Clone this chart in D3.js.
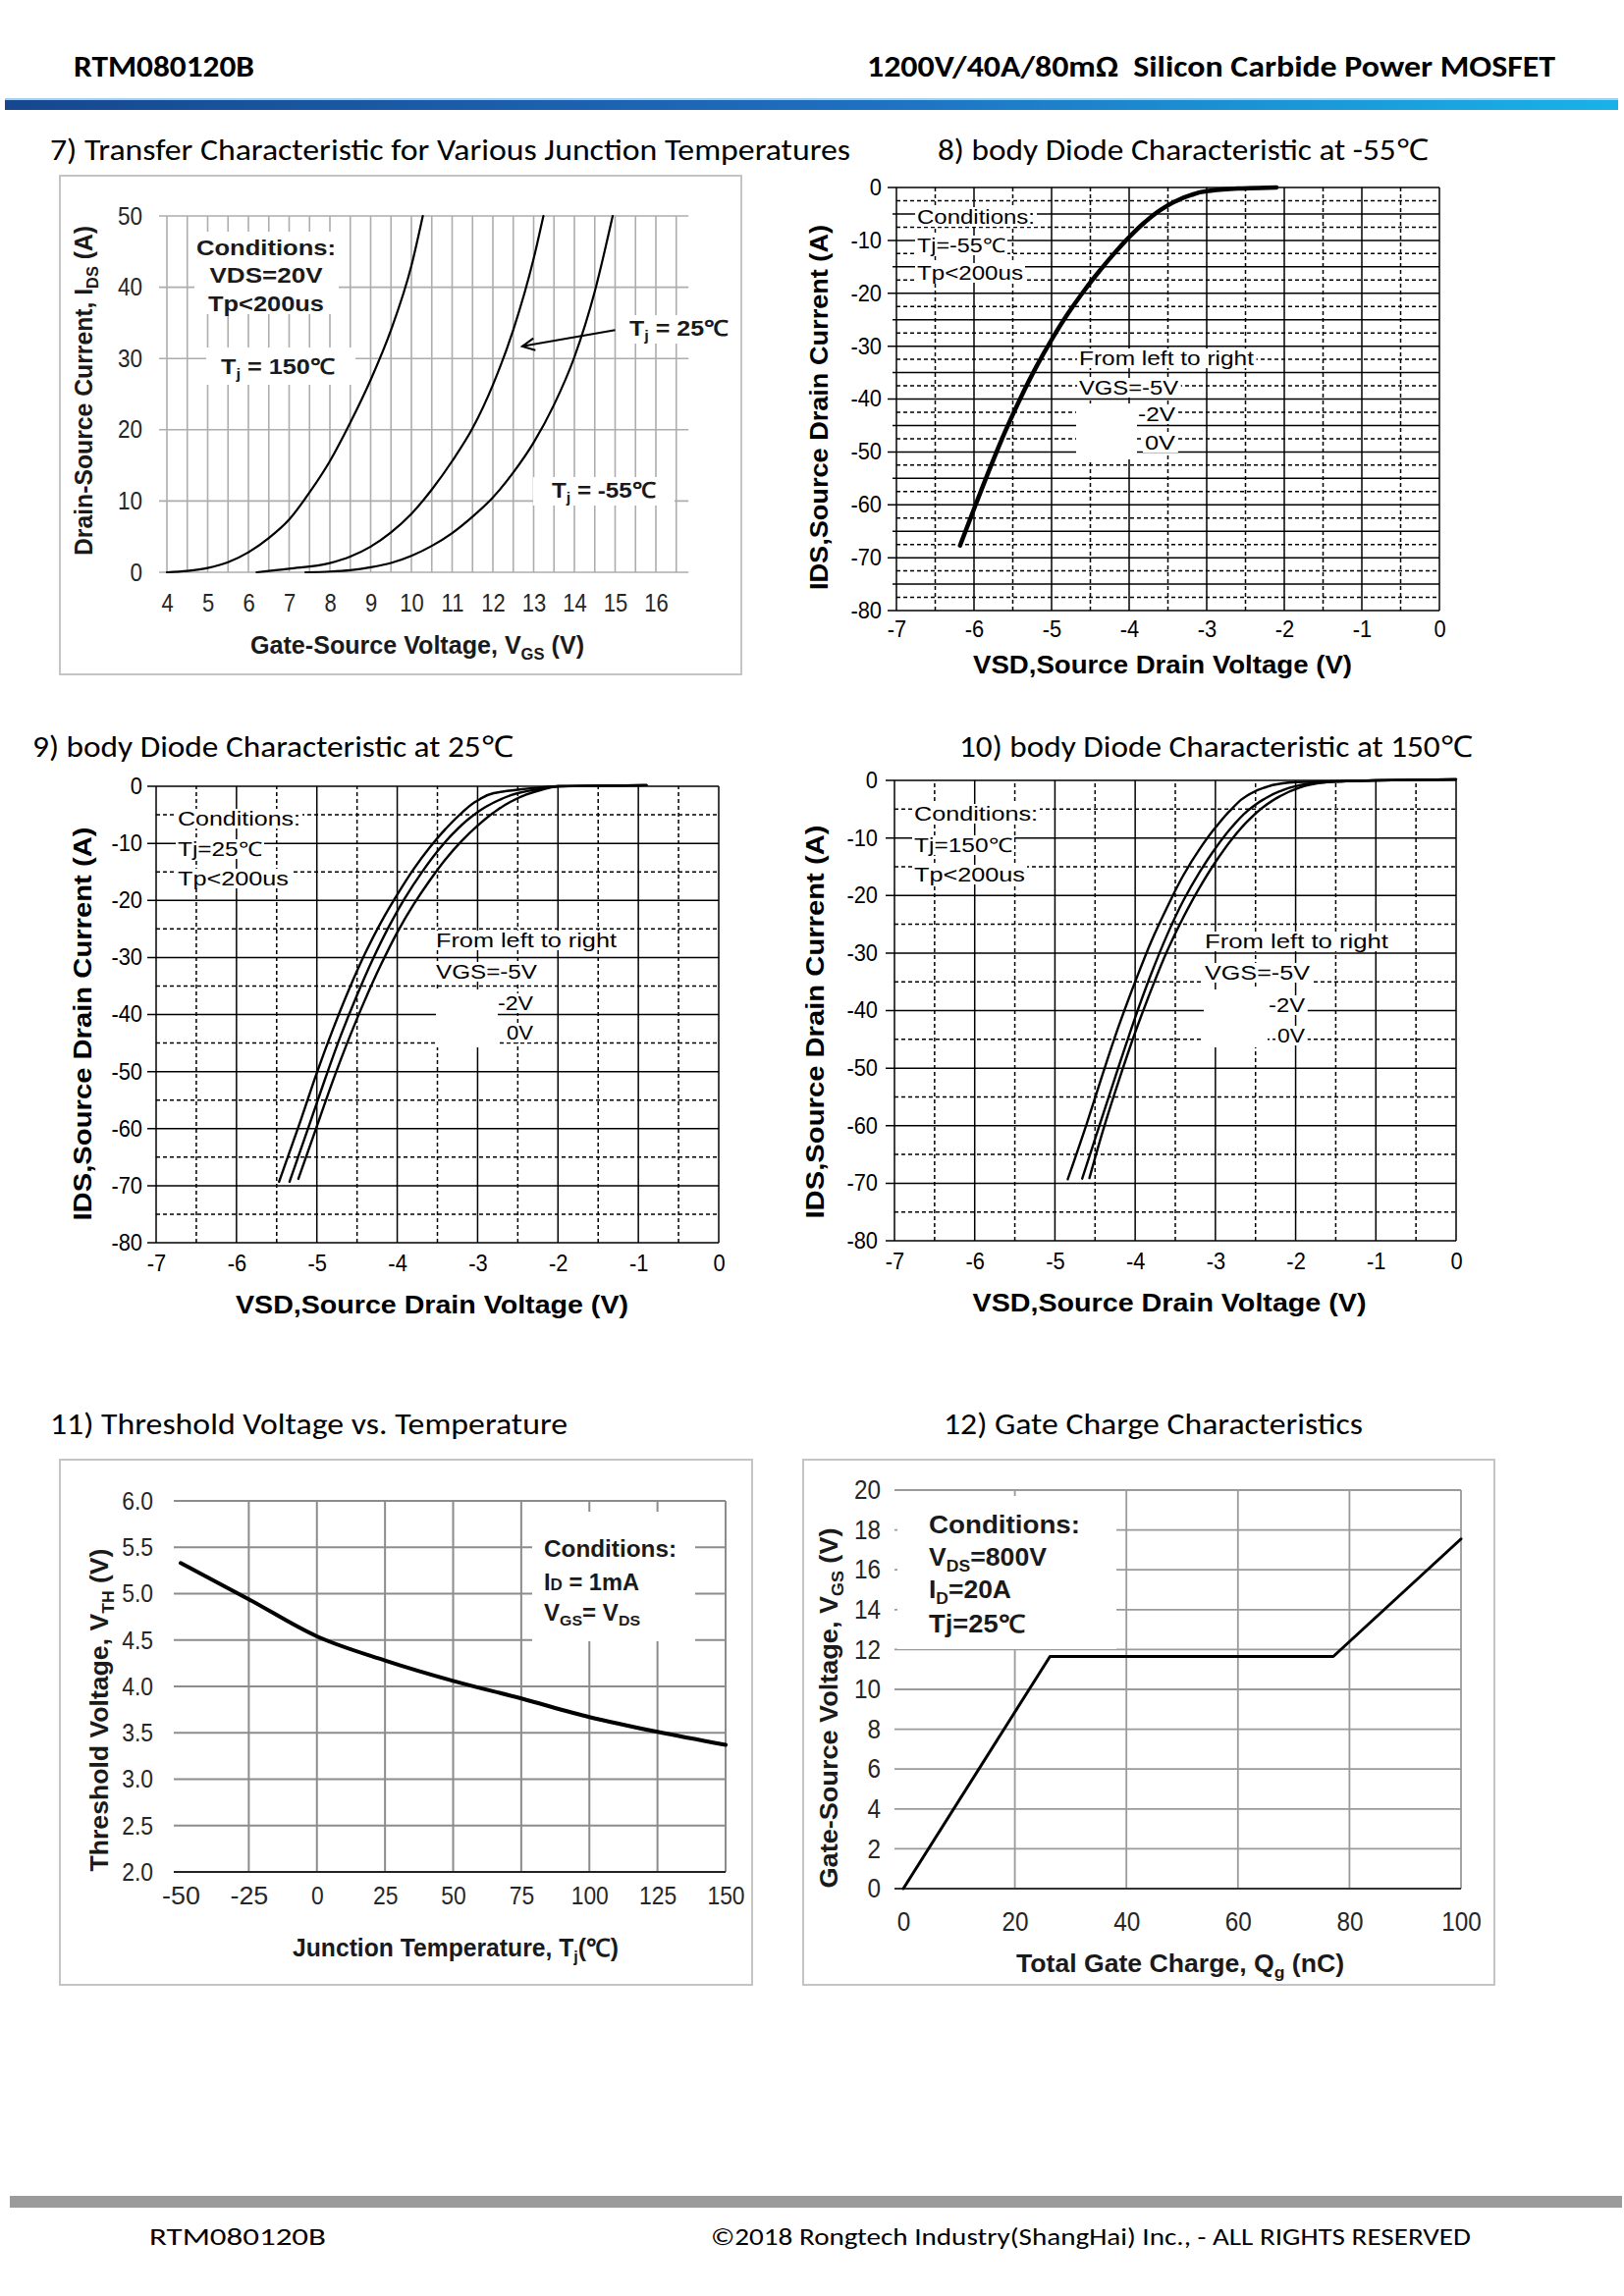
<!DOCTYPE html>
<html>
<head>
<meta charset="utf-8">
<script src="https://cdn.jsdelivr.net/npm/d3@7"></script>
<style>
  body { margin: 0; background: #fff; }
  svg { display: block; }
  text { white-space: pre; }
</style>
</head>
<body>
<svg id="page" width="1654" height="2339"></svg>
<script>
// ---- data ----

// 7) transfer characteristic, VGS (V) vs IDS (A)
var tfVgs150 = [4, 4.5, 5, 5.5, 6, 6.5, 7, 7.5, 8, 8.5, 9, 9.5, 10, 10.28];
var tfIds150 = [0, 0.2, 0.6, 1.4, 2.8, 4.8, 7.4, 11.2, 15.6, 21.0, 27.0, 34.0, 43.0, 50];
var tfVgs25 = [6.2, 7, 8, 8.5, 9, 9.5, 10, 10.5, 11, 11.5, 12, 12.5, 13, 13.24];
var tfIds25 = [0, 0.5, 1.3, 2.2, 3.6, 5.6, 8.2, 11.6, 15.6, 20.2, 26.3, 34, 44, 50];
var tfVgsM55 = [7.4, 8, 8.5, 9, 9.5, 10, 10.5, 11, 11.5, 12, 12.5, 13, 13.5, 14, 14.5, 14.94];
var tfIdsM55 = [0, 0.1, 0.3, 0.7, 1.3, 2.3, 3.7, 5.5, 7.8, 10.5, 14, 18.2, 23.5, 30.2, 39.4, 50];
var tfTicksX = [4, 5, 6, 7, 8, 9, 10, 11, 12, 13, 14, 15, 16];
var tfTicksY = [0, 10, 20, 30, 40, 50];

// 8) body diode at -55C (the three VGS curves lie on top of each other)
var bdVsdM55 = [-6.18, -6.0, -5.8, -5.6, -5.4, -5.2, -5.0, -4.8, -4.6, -4.4, -4.2, -4.0, -3.8, -3.6, -3.4, -3.2, -3.0, -2.6, -2.1];
var bdIdsM55 = [-67.7, -60.8, -53.3, -46.2, -39.8, -34.0, -28.8, -24.1, -19.9, -16.1, -12.6, -9.4, -6.6, -4.3, -2.6, -1.4, -0.7, -0.2, 0];

// 9) body diode at 25C
var bdVsd25n5 = [-5.47, -5.2, -5.0, -4.8, -4.6, -4.4, -4.2, -4.0, -3.8, -3.6, -3.4, -3.2, -3.0, -2.8, -2.5, -2.2, -2.0, -0.9];
var bdIds25n5 = [-69.3, -58.5, -50.2, -42.6, -35.6, -29.3, -23.8, -19.0, -14.6, -10.8, -7.5, -4.7, -2.5, -1.2, -0.6, -0.2, 0, 0.2];
var bdVsd25n2 = [-5.34, -5.1, -4.9, -4.7, -4.5, -4.3, -4.1, -3.9, -3.7, -3.5, -3.3, -3.1, -2.9, -2.7, -2.5, -2.2, -2.0, -0.9];
var bdIds25n2 = [-69.3, -59.6, -51.4, -43.6, -36.6, -30.2, -24.5, -19.5, -15.2, -11.4, -8.2, -5.6, -3.6, -2.2, -1.2, -0.4, 0, 0.2];
var bdVsd25z = [-5.23, -5.0, -4.8, -4.6, -4.4, -4.2, -4.0, -3.8, -3.6, -3.4, -3.2, -3.0, -2.8, -2.6, -2.4, -2.2, -2.0, -0.9];
var bdIds25z = [-68.8, -59.6, -51.6, -44.2, -37.4, -31.2, -25.6, -20.8, -16.6, -12.8, -9.6, -6.9, -4.6, -2.8, -1.5, -0.6, 0, 0.2];

// 10) body diode at 150C
var bdVsd150n5 = [-4.84, -4.6, -4.4, -4.2, -4.0, -3.8, -3.6, -3.4, -3.2, -3.0, -2.8, -2.6, -2.4, -2.2, -2.0, -1.7, -1.0, 0];
var bdIds150n5 = [-69.3, -59.5, -50.8, -42.5, -35, -28, -22, -16.5, -12, -8.2, -5.0, -2.6, -1.3, -0.6, -0.3, -0.2, 0, 0.2];
var bdVsd150n2 = [-4.66, -4.4, -4.2, -4.0, -3.8, -3.6, -3.4, -3.2, -3.0, -2.8, -2.6, -2.4, -2.2, -2.0, -1.8, -1.0, 0];
var bdIds150n2 = [-69.2, -58, -49.5, -41.2, -33.6, -26.8, -20.9, -16, -11.8, -8.2, -5.3, -3.3, -1.9, -1.0, -0.5, 0, 0.2];
var bdVsd150z = [-4.57, -4.4, -4.2, -4.0, -3.8, -3.6, -3.4, -3.2, -3.0, -2.8, -2.6, -2.4, -2.2, -2.0, -1.8, -1.5, -1.0, 0];
var bdIds150z = [-69.1, -60.8, -52, -43.8, -36.4, -29.6, -23.8, -18.7, -14.2, -10.3, -7.1, -4.6, -2.8, -1.5, -0.7, -0.2, 0, 0.2];
var bdTicksX = [-7, -6, -5, -4, -3, -2, -1, 0];
var bdTicksY = [-80, -70, -60, -50, -40, -30, -20, -10, 0];

// 11) threshold voltage vs temperature
var vthTemp = [-50, -25, 0, 25, 50, 75, 100, 125, 150];
var vthVolt = [5.33, 4.94, 4.54, 4.28, 4.06, 3.87, 3.67, 3.51, 3.37];
var vthTicksY = [2.0, 2.5, 3.0, 3.5, 4.0, 4.5, 5.0, 5.5, 6.0];

// 12) gate charge
var qgCharge = [0, 26.3, 77.1, 100];
var qgVgs = [0, 11.65, 11.65, 17.55];
var qgTicksX = [0, 20, 40, 60, 80, 100];
var qgTicksY = [0, 2, 4, 6, 8, 10, 12, 14, 16, 18, 20];

var SANS = "'Liberation Sans', Arial, Helvetica, sans-serif";
var CAL = "Carlito, Calibri, Lato, 'Open Sans', sans-serif";

var svg = d3.select('#page');

// text with optional subscripts {sub:'..'} / small letters {sm:'..'}, width fit and white backing
function txt(g, x, y, parts, o) {
  o = o || {};
  var size = o.size || 20;
  var t = g.append('text')
    .attr('x', x).attr('y', y)
    .attr('font-family', o.font || SANS)
    .attr('font-size', size)
    .attr('font-weight', o.bold ? 'bold' : 'normal')
    .attr('text-anchor', o.anchor || 'start')
    .attr('fill', o.fill || '#000');
  if (typeof parts === 'string') parts = [parts];
  var down = false;
  parts.forEach(function(p) {
    var s;
    if (typeof p === 'object' && p.sub !== undefined) {
      s = t.append('tspan').text(p.sub).attr('font-size', size * 0.66);
      if (!down) { s.attr('dy', size * 0.22); down = true; }
    } else if (typeof p === 'object') {
      s = t.append('tspan').text(p.sm).attr('font-size', size * 0.72);
      if (down) { s.attr('dy', -size * 0.22); down = false; }
    } else {
      s = t.append('tspan').text(p);
      if (down) { s.attr('dy', -size * 0.22); down = false; }
    }
  });
  if (o.w) t.attr('textLength', o.w).attr('lengthAdjust', 'spacingAndGlyphs');
  if (o.bg) {
    var b = t.node().getBBox();
    g.insert('rect', function() { return t.node(); })
      .attr('x', b.x - 2).attr('y', b.y + 1).attr('width', b.width + 4).attr('height', b.height - 2)
      .attr('fill', '#fff');
  }
  return t;
}

function rotTxt(g, bx, cy, parts, o) {
  var r = g.append('g').attr('transform', 'translate(' + bx + ',' + cy + ') rotate(-90)');
  o.anchor = 'middle';
  return txt(r, 0, 0, parts, o);
}

function hline(g, x1, x2, y, stroke, w, dash) {
  g.append('line').attr('x1', x1).attr('x2', x2).attr('y1', y).attr('y2', y)
    .attr('stroke', stroke).attr('stroke-width', w).attr('stroke-dasharray', dash || null);
}
function vline(g, x, y1, y2, stroke, w, dash) {
  g.append('line').attr('x1', x).attr('x2', x).attr('y1', y1).attr('y2', y2)
    .attr('stroke', stroke).attr('stroke-width', w).attr('stroke-dasharray', dash || null);
}

// tick label styling; k < 1 squeezes the glyphs like a narrow font
function styleTicks(sel, size, fill, k) {
  sel.select('.domain').remove();
  sel.selectAll('text').attr('font-family', SANS).attr('font-size', size).attr('fill', fill)
    .each(function() {
      if (k && k !== 1) {
        var L = this.getComputedTextLength();
        d3.select(this).attr('textLength', L * k).attr('lengthAdjust', 'spacingAndGlyphs');
      }
    });
}

function curve(g, x, y, xs, ys, w, kind) {
  var pts = xs.map(function(v, i) { return [v, ys[i]]; });
  g.append('path').datum(pts)
    .attr('fill', 'none').attr('stroke', '#000').attr('stroke-width', w)
    .attr('stroke-linejoin', 'round').attr('stroke-linecap', 'round')
    .attr('d', d3.line().x(function(d) { return x(d[0]); }).y(function(d) { return y(d[1]); })
      .curve(kind || d3.curveMonotoneX));
}

// ---- page header / footer ----
var defs = svg.append('defs');
var grad = defs.append('linearGradient').attr('id', 'bar');
grad.append('stop').attr('offset', '0').attr('stop-color', '#16478f');
grad.append('stop').attr('offset', '0.5').attr('stop-color', '#1f6cbd');
grad.append('stop').attr('offset', '1').attr('stop-color', '#19b2e8');

txt(svg, 75, 78, 'RTM080120B', { font: CAL, size: 31, bold: true, w: 184 });
txt(svg, 883, 78, '1200V/40A/80m\u2126  Silicon Carbide Power MOSFET', { font: CAL, size: 31, bold: true, w: 701 });
svg.append('rect').attr('x', 5).attr('y', 100).attr('width', 1643).attr('height', 2).attr('fill', '#9fd0f0');
svg.append('rect').attr('x', 5).attr('y', 102).attr('width', 1643).attr('height', 10).attr('fill', 'url(#bar)');

svg.append('rect').attr('x', 10).attr('y', 2237).attr('width', 1642).attr('height', 12).attr('fill', '#9b9b9b');
txt(svg, 152, 2287, 'RTM080120B', { font: CAL, size: 25, w: 180 });
txt(svg, 724, 2287, '\u00a92018 Rongtech Industry(ShangHai) Inc., - ALL RIGHTS RESERVED', { font: CAL, size: 25, w: 774 });

// ---- 7) transfer characteristic ----
(function() {
  var g = svg.append('g');
  txt(g, 51, 163, '7) Transfer Characteristic for Various Junction Temperatures', { font: CAL, size: 30, w: 815 });
  g.append('rect').attr('x', 61).attr('y', 179).attr('width', 694).attr('height', 508)
    .attr('fill', '#fff').attr('stroke', '#c4c4c4').attr('stroke-width', 2);

  var x = d3.scaleLinear().domain([4, 16]).range([170, 668]);
  var y = d3.scaleLinear().domain([0, 50]).range([583, 220]);
  var grid = '#adadad';
  d3.range(4, 16.51, 0.5).forEach(function(v) { vline(g, x(v), y(0), y(50), grid, 1.6); });
  tfTicksY.forEach(function(v) { hline(g, x(4) - 8, x(16.8), y(v), grid, 1.6); });

  g.append('g').attr('transform', 'translate(' + x(4) + ',0)')
    .call(d3.axisLeft(y).tickValues(tfTicksY).tickSize(0).tickPadding(25))
    .call(function(s) { styleTicks(s, 25, '#262626', 0.9); });
  g.append('g').attr('transform', 'translate(0,' + y(0) + ')')
    .call(d3.axisBottom(x).tickValues(tfTicksX).tickSize(0).tickPadding(22))
    .call(function(s) { styleTicks(s, 25, '#262626', 0.88); });

  txt(g, 425, 666, ['Gate-Source Voltage, V', { sub: 'GS' }, ' (V)'], { size: 25, bold: true, anchor: 'middle', w: 340, fill: '#1a1a1a' });
  rotTxt(g, 94, 398, ['Drain-Source Current, I', { sub: 'DS' }, ' (A)'], { size: 25, bold: true, w: 336, fill: '#1a1a1a' });

  curve(g, x, y, tfVgs150, tfIds150, 2.2);
  curve(g, x, y, tfVgs25, tfIds25, 2.2);
  curve(g, x, y, tfVgsM55, tfIdsM55, 2.2);

  g.append('rect').attr('x', 198).attr('y', 236).attr('width', 147).attr('height', 84).attr('fill', '#fff');
  txt(g, 271, 260, 'Conditions:', { size: 22, bold: true, anchor: 'middle', w: 142, fill: '#1a1a1a' });
  txt(g, 271, 288, 'VDS=20V', { size: 22, bold: true, anchor: 'middle', w: 115, fill: '#1a1a1a' });
  txt(g, 271, 317, 'Tp<200us', { size: 22, bold: true, anchor: 'middle', w: 118, fill: '#1a1a1a' });

  g.append('rect').attr('x', 210).attr('y', 354).attr('width', 152).attr('height', 38).attr('fill', '#fff');
  txt(g, 225, 381, ['T', { sub: 'j' }, ' = 150\u2103'], { size: 22, bold: true, w: 116, fill: '#1a1a1a' });
  g.append('rect').attr('x', 634).attr('y', 321).attr('width', 70).attr('height', 29).attr('fill', '#fff');
  txt(g, 641, 342, ['T', { sub: 'j' }, ' = 25\u2103'], { size: 22, bold: true, w: 101, fill: '#1a1a1a' });
  g.append('rect').attr('x', 543).attr('y', 486).attr('width', 144).attr('height', 29).attr('fill', '#fff');
  txt(g, 562, 507, ['T', { sub: 'j' }, ' = -55\u2103'], { size: 22, bold: true, w: 106, fill: '#1a1a1a' });

  // arrow pointing at the 25C curve
  var ax1 = x(15.0), ay1 = y(34.0), ax2 = x(12.72), ay2 = y(31.7);
  g.append('line').attr('x1', ax1).attr('y1', ay1).attr('x2', ax2).attr('y2', ay2)
    .attr('stroke', '#000').attr('stroke-width', 2);
  var ang = Math.atan2(ay1 - ay2, ax1 - ax2), L = 14;
  g.append('path').attr('fill', 'none').attr('stroke', '#000').attr('stroke-width', 2)
    .attr('d', 'M' + (ax2 + L * Math.cos(ang - 0.45)) + ',' + (ay2 + L * Math.sin(ang - 0.45)) +
      'L' + ax2 + ',' + ay2 + 'L' + (ax2 + L * Math.cos(ang + 0.45)) + ',' + (ay2 + L * Math.sin(ang + 0.45)));
})();

// ---- 8) 9) 10) body diode characteristics ----
function drawDiode(cfg) {
  var g = svg.append('g');
  txt(g, cfg.titleX, cfg.titleY, cfg.title, { font: CAL, size: 30, w: cfg.titleW });
  var x = d3.scaleLinear().domain([-7, 0]).range(cfg.xr);
  var y = d3.scaleLinear().domain([-80, 0]).range(cfg.yr);
  var dash = '4,3';

  d3.range(-6.5, 0, 1).forEach(function(v) { vline(g, x(v), y(-80), y(0), '#000', 1.5, dash); });
  cfg.hDash.forEach(function(v) { hline(g, x(-7), x(0), y(v), '#000', 1.5, dash); });
  cfg.hSolid.forEach(function(v) {
    var ext = (v % 10 === 0) ? 9 : 4;
    hline(g, x(-7) - ext, x(0), y(v), '#000', 1.5);
  });
  bdTicksX.forEach(function(v) { vline(g, x(v), y(-80), y(0), '#000', 1.5); });

  g.append('g').attr('transform', 'translate(' + x(-7) + ',0)')
    .call(d3.axisLeft(y).tickValues(bdTicksY).tickSize(0).tickPadding(cfg.padY).tickFormat(String))
    .call(function(s) { styleTicks(s, 23, '#000', 0.95); });
  g.append('g').attr('transform', 'translate(0,' + y(-80) + ')')
    .call(d3.axisBottom(x).tickValues(bdTicksX).tickSize(0).tickPadding(cfg.padX).tickFormat(String))
    .call(function(s) { styleTicks(s, 23, '#000', 0.95); });

  txt(g, cfg.xt[0], cfg.xt[1], 'VSD,Source Drain Voltage (V)', { size: 25, bold: true, anchor: 'middle', w: cfg.xt[2] });
  rotTxt(g, cfg.yt[0], cfg.yt[1], 'IDS,Source Drain Current (A)', { size: 25, bold: true, w: cfg.yt[2] });

  cfg.series.forEach(function(s) { curve(g, x, y, s[0], s[1], cfg.lw, d3.curveMonotoneY); });

  var c = cfg.cond;
  txt(g, c.x, c.y[0], 'Conditions:', { size: 20, bg: true, w: c.w[0] });
  txt(g, c.x, c.y[1], c.tj, { size: 20, bg: true, w: c.w[1] });
  txt(g, c.x, c.y[2], 'Tp<200us', { size: 20, bg: true, w: c.w[2] });

  var l = cfg.leg;
  g.append('rect').attr('x', l.blank[0]).attr('y', l.blank[1]).attr('width', l.blank[2]).attr('height', l.blank[3]).attr('fill', '#fff');
  txt(g, l.x, l.y[0], 'From left to right', { size: 20, bg: true, w: l.w[0] });
  txt(g, l.x, l.y[1], 'VGS=-5V', { size: 20, bg: true, w: l.w[1] });
  txt(g, l.r, l.y[2], '-2V', { size: 20, bg: true, anchor: 'end', w: l.w[2] });
  txt(g, l.r, l.y[3], '0V', { size: 20, bg: true, anchor: 'end', w: l.w[3] });
}

drawDiode({
  title: '8) body Diode Characteristic at -55\u2103', titleX: 955, titleY: 163, titleW: 500,
  xr: [913, 1466], yr: [622, 191], padY: 15, padX: 11,
  hSolid: d3.range(-80, 0.1, 5), hDash: d3.range(-77.5, 0, 5),
  xt: [1184, 686, 386], yt: [843, 415, 372],
  series: [[bdVsdM55, bdIdsM55]], lw: 4.5,
  cond: { x: 934, y: [228, 257, 285], tj: 'Tj=-55\u2103', w: [120, 90, 108] },
  leg: { x: 1099, r: 1197, y: [372, 402, 429, 458], w: [178, 101, 38, 31], blank: [1096, 411, 62, 57] }
});

drawDiode({
  title: '9) body Diode Characteristic at 25\u2103', titleX: 33, titleY: 771, titleW: 490,
  xr: [159, 732], yr: [1266, 801], padY: 14, padX: 13,
  hSolid: d3.range(-80, 0.1, 10), hDash: d3.range(-75, 0, 10),
  xt: [440, 1338, 400], yt: [93, 1043, 401],
  series: [[bdVsd25n5, bdIds25n5], [bdVsd25n2, bdIds25n2], [bdVsd25z, bdIds25z]], lw: 2.4,
  cond: { x: 181, y: [841, 872, 902], tj: 'Tj=25\u2103', w: [125, 86, 113] },
  leg: { x: 444, r: 543, y: [965, 997, 1029, 1059], w: [184, 103, 36, 27], blank: [444, 1008, 63, 59] }
});

drawDiode({
  title: '10) body Diode Characteristic at 150\u2103', titleX: 977, titleY: 771, titleW: 523,
  xr: [911, 1483], yr: [1264, 795], padY: 17, padX: 13,
  hSolid: d3.range(-80, 0.1, 10), hDash: d3.range(-75, 0, 10),
  xt: [1191, 1336, 401], yt: [839, 1041, 401],
  series: [[bdVsd150n5, bdIds150n5], [bdVsd150n2, bdIds150n2], [bdVsd150z, bdIds150z]], lw: 2.4,
  cond: { x: 931, y: [836, 868, 898], tj: 'Tj=150\u2103', w: [126, 100, 113] },
  leg: { x: 1227, r: 1329, y: [966, 998, 1031, 1062], w: [187, 107, 37, 28], blank: [1226, 1008, 65, 59] }
});

// ---- 11) threshold voltage ----
(function() {
  var g = svg.append('g');
  txt(g, 51, 1461, '11) Threshold Voltage vs. Temperature', { font: CAL, size: 30, w: 527 });
  g.append('rect').attr('x', 61).attr('y', 1487).attr('width', 705).attr('height', 535)
    .attr('fill', '#fff').attr('stroke', '#c4c4c4').attr('stroke-width', 2);
  var x = d3.scaleLinear().domain([-50, 150]).range([184, 739]);
  var y = d3.scaleLinear().domain([2, 6]).range([1907, 1529]);
  var grid = '#8c8c8c';
  d3.range(-25, 151, 25).forEach(function(v) { vline(g, x(v), y(2), y(6), grid, 2); });
  vthTicksY.forEach(function(v) {
    hline(g, x(-50) - 7, x(150), y(v), v === 2 ? '#222' : grid, 2);
  });
  g.append('g').attr('transform', 'translate(' + x(-50) + ',0)')
    .call(d3.axisLeft(y).tickValues(vthTicksY).tickSize(0).tickPadding(28).tickFormat(d3.format('.1f')))
    .call(function(s) { styleTicks(s, 26, '#262626', 0.88); });
  g.append('g').attr('transform', 'translate(0,' + y(2) + ')')
    .call(d3.axisBottom(x).tickValues(vthTemp).tickSize(0).tickPadding(15))
    .call(function(s) { styleTicks(s, 26, '#262626', 0.88); })
    .selectAll('text').text(function(d) { return String(d); });

  txt(g, 464, 1993, ['Junction Temperature, T', { sub: 'j' }, '(\u2103)'], { size: 25, bold: true, anchor: 'middle', w: 332, fill: '#1a1a1a' });
  rotTxt(g, 110, 1742, ['Threshold Voltage, V', { sub: 'TH' }, ' (V)'], { size: 25, bold: true, w: 329, fill: '#1a1a1a' });

  curve(g, x, y, vthTemp, vthVolt, 4, d3.curveMonotoneX);

  g.append('rect').attr('x', 542).attr('y', 1540).attr('width', 166).attr('height', 132).attr('fill', '#fff');
  txt(g, 554, 1586, 'Conditions:', { size: 23, bold: true, w: 135, fill: '#1a1a1a' });
  txt(g, 554, 1620, ['I', { sm: 'D' }, ' = 1mA'], { size: 23, bold: true, w: 97, fill: '#1a1a1a' });
  txt(g, 554, 1651, ['V', { sub: 'GS' }, '= V', { sub: 'DS' }], { size: 23, bold: true, w: 98, fill: '#1a1a1a' });
})();

// ---- 12) gate charge ----
(function() {
  var g = svg.append('g');
  txt(g, 961, 1461, '12) Gate Charge Characteristics', { font: CAL, size: 30, w: 427 });
  g.append('rect').attr('x', 818).attr('y', 1487).attr('width', 704).attr('height', 535)
    .attr('fill', '#fff').attr('stroke', '#c4c4c4').attr('stroke-width', 2);
  var x = d3.scaleLinear().domain([0, 100]).range([920, 1488]);
  var y = d3.scaleLinear().domain([0, 20]).range([1924, 1518]);
  var grid = '#9a9a9a';
  d3.range(20, 101, 20).forEach(function(v) { vline(g, x(v), y(0), y(20), grid, 1.8); });
  qgTicksY.forEach(function(v) {
    hline(g, x(0) - 9, x(100), y(v), v === 0 ? '#333' : grid, 1.8);
  });
  g.append('g').attr('transform', 'translate(' + x(0) + ',0)')
    .call(d3.axisLeft(y).tickValues(qgTicksY).tickSize(0).tickPadding(23).tickFormat(String))
    .call(function(s) { styleTicks(s, 27, '#262626', 0.9); });
  g.append('g').attr('transform', 'translate(0,' + y(0) + ')')
    .call(d3.axisBottom(x).tickValues(qgTicksX).tickSize(0).tickPadding(24).tickFormat(String))
    .call(function(s) { styleTicks(s, 27, '#262626', 0.9); });

  txt(g, 1202, 2009, ['Total Gate Charge, Q', { sub: 'g' }, ' (nC)'], { size: 25, bold: true, anchor: 'middle', w: 334, fill: '#1a1a1a' });
  rotTxt(g, 853, 1740, ['Gate-Source Voltage, V', { sub: 'GS' }, ' (V)'], { size: 25, bold: true, w: 367, fill: '#1a1a1a' });

  curve(g, x, y, qgCharge, qgVgs, 3, d3.curveLinear);

  g.append('rect').attr('x', 914).attr('y', 1524).attr('width', 223).attr('height', 156).attr('fill', '#fff');
  txt(g, 946, 1562, 'Conditions:', { size: 25, bold: true, w: 154, fill: '#1a1a1a' });
  txt(g, 946, 1595, ['V', { sub: 'DS' }, '=800V'], { size: 25, bold: true, w: 120, fill: '#1a1a1a' });
  txt(g, 946, 1628, ['I', { sub: 'D' }, '=20A'], { size: 25, bold: true, w: 84, fill: '#1a1a1a' });
  txt(g, 946, 1663, 'Tj=25\u2103', { size: 25, bold: true, w: 98, fill: '#1a1a1a' });
})();
</script>
</body>
</html>
